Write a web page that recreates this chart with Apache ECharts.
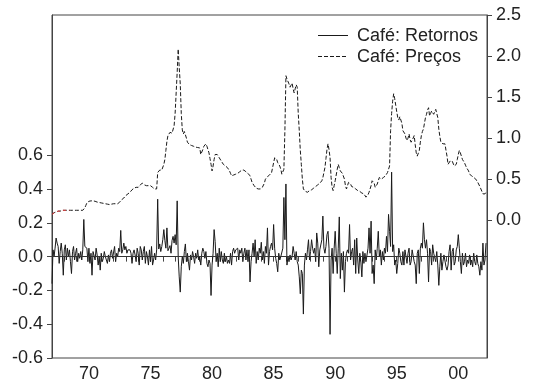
<!DOCTYPE html>
<html>
<head>
<meta charset="utf-8">
<script src="https://cdn.jsdelivr.net/npm/echarts@6/dist/echarts.min.js"></script>
<style>html,body{margin:0;padding:0;background:#fff}#c{width:548px;height:386px}</style>
</head>
<body>
<div id="c"></div>
<script>
// Monthly data starting January 1967
const startYear = 1967;

// Café: Retornos (left axis), one row per year
const returns = [
  -0.16, 0.04, 0.00, 0.05, 0.11, 0.08, 0.06, -0.04, 0.03, 0.08, 0.02, -0.11, // 1967
  0.04, 0.07, -0.02, 0.05, 0.00, 0.04, -0.03, -0.10, 0.03, 0.06, -0.02, 0.02, // 1968
  0.05, -0.03, 0.02, -0.01, 0.03, -0.02, 0.04, 0.22, 0.06, 0.07, 0.05, -0.03, // 1969
  0.05, -0.04, 0.02, -0.11, 0.03, 0.04, -0.02, 0.05, 0.01, -0.05, 0.00, -0.08, // 1970
  0.02, -0.03, -0.01, 0.03, 0.00, -0.02, -0.04, 0.01, -0.03, 0.02, 0.04, -0.01, // 1971
  0.00, 0.06, -0.03, 0.02, 0.00, 0.05, 0.03, 0.155, 0.02, 0.04, 0.08, 0.04, // 1972
  0.06, 0.02, 0.04, 0.03, 0.04, 0.02, -0.04, 0.02, 0.04, 0.01, -0.03, 0.05, // 1973
  0.02, -0.05, 0.06, 0.04, -0.02, 0.03, 0.06, -0.04, 0.03, 0.00, -0.05, 0.04, // 1974
  -0.03, 0.06, -0.05, -0.02, 0.02, -0.02, 0.04, 0.34, 0.045, 0.075, 0.03, 0.06, // 1975
  0.10, 0.16, 0.095, 0.05, 0.17, 0.035, 0.05, 0.065, 0.02, 0.095, 0.12, 0.08, // 1976
  0.13, 0.07, 0.33, 0.00, -0.12, -0.21, -0.06, 0.00, -0.04, 0.03, 0.075, -0.03, // 1977
  0.02, -0.03, -0.08, 0.01, -0.02, 0.03, 0.00, -0.04, 0.02, -0.01, 0.04, -0.02, // 1978
  0.00, -0.05, 0.02, 0.05, 0.03, -0.01, 0.03, -0.04, -0.06, -0.02, -0.04, -0.23, // 1979
  -0.05, 0.02, 0.16, 0.09, -0.03, 0.02, -0.06, 0.05, -0.03, 0.03, -0.02, -0.04, // 1980
  0.02, -0.03, 0.00, -0.04, -0.02, -0.04, 0.02, -0.05, 0.03, 0.05, 0.02, 0.04, // 1981
  0.03, 0.05, -0.02, 0.04, 0.02, 0.05, -0.03, 0.02, 0.05, -0.02, 0.04, -0.03, // 1982
  0.04, -0.15, -0.03, 0.02, 0.08, 0.00, 0.10, -0.04, 0.03, -0.02, 0.05, 0.02, // 1983
  0.085, -0.02, 0.03, -0.04, 0.06, 0.02, 0.17, -0.05, 0.03, 0.06, 0.08, 0.04, // 1984
  0.19, 0.05, -0.01, -0.04, -0.09, 0.02, -0.02, 0.00, 0.00, 0.05, 0.35, 0.10, // 1985
  0.43, -0.05, 0.00, -0.03, 0.01, -0.02, 0.00, 0.06, 0.02, -0.02, 0.03, -0.03, // 1986
  -0.05, -0.12, -0.22, -0.08, -0.10, -0.34, -0.05, 0.02, -0.02, 0.04, 0.10, -0.02, // 1987
  0.03, 0.10, 0.05, 0.02, 0.05, -0.03, 0.14, 0.08, -0.06, 0.04, 0.05, 0.10, // 1988
  0.24, 0.05, 0.02, 0.06, 0.13, 0.15, 0.05, -0.46, -0.02, 0.05, -0.10, 0.05, // 1989
  0.15, 0.02, -0.10, 0.05, 0.235, -0.13, 0.02, -0.08, 0.03, -0.21, -0.03, 0.02, // 1990
  0.04, 0.02, 0.19, -0.02, 0.03, 0.05, -0.05, 0.10, -0.10, 0.11, -0.02, -0.10, // 1991
  0.02, -0.03, -0.12, 0.03, -0.04, 0.02, -0.03, -0.02, 0.05, 0.17, 0.02, 0.21, // 1992
  -0.10, -0.05, -0.16, 0.04, -0.02, 0.05, 0.15, 0.00, 0.04, -0.05, 0.03, -0.02, // 1993
  0.05, 0.02, 0.12, 0.03, 0.25, 0.15, 0.06, 0.50, 0.03, 0.07, -0.05, -0.02, // 1994
  -0.10, -0.04, 0.05, 0.02, -0.03, -0.05, 0.03, -0.05, 0.04, 0.05, -0.04, 0.02, // 1995
  0.05, -0.05, -0.03, 0.04, 0.03, -0.03, -0.05, -0.16, 0.02, 0.04, -0.10, 0.05, // 1996
  0.08, 0.05, 0.20, 0.10, 0.05, 0.10, 0.02, -0.15, 0.05, 0.03, -0.05, 0.07, // 1997
  0.02, 0.03, -0.03, 0.03, -0.05, -0.17, -0.06, 0.02, -0.08, -0.03, 0.01, 0.02, // 1998
  -0.06, -0.08, -0.05, 0.03, 0.07, -0.08, 0.03, 0.05, -0.05, -0.03, 0.04, 0.06, // 1999
  0.13, 0.05, -0.03, -0.10, 0.02, -0.05, -0.03, 0.02, -0.06, -0.02, -0.04, 0.01, // 2000
  -0.05, -0.02, -0.06, 0.02, -0.03, -0.05, 0.01, -0.04, -0.06, -0.11, -0.03, -0.08, // 2001
  0.08, -0.05, -0.02, 0.08 // 2002
];

// Café: Preços (right axis), one row per year
const prices = [
  0.07, 0.08, 0.09, 0.09, 0.10, 0.10, 0.11, 0.11, 0.11, 0.12, 0.12, 0.12, // 1967
  0.12, 0.12, 0.12, 0.12, 0.12, 0.12, 0.12, 0.12, 0.12, 0.12, 0.12, 0.12, // 1968
  0.12, 0.12, 0.12, 0.12, 0.12, 0.12, 0.12, 0.13, 0.15, 0.18, 0.21, 0.22, // 1969
  0.23, 0.235, 0.235, 0.24, 0.235, 0.23, 0.23, 0.225, 0.22, 0.22, 0.215, 0.21, // 1970
  0.21, 0.21, 0.205, 0.20, 0.20, 0.20, 0.195, 0.195, 0.19, 0.195, 0.195, 0.20, // 1971
  0.20, 0.20, 0.20, 0.205, 0.20, 0.21, 0.22, 0.235, 0.25, 0.26, 0.27, 0.29, // 1972
  0.30, 0.31, 0.32, 0.33, 0.34, 0.36, 0.37, 0.38, 0.39, 0.39, 0.40, 0.40, // 1973
  0.40, 0.41, 0.43, 0.44, 0.45, 0.44, 0.43, 0.42, 0.42, 0.43, 0.42, 0.42, // 1974
  0.42, 0.41, 0.40, 0.39, 0.38, 0.38, 0.38, 0.58, 0.60, 0.61, 0.60, 0.61, // 1975
  0.63, 0.68, 0.74, 0.85, 0.96, 1.03, 1.05, 1.07, 1.07, 1.06, 1.08, 1.15, // 1976
  1.30, 1.55, 1.80, 2.085, 1.86, 1.66, 1.30, 1.10, 1.05, 1.08, 1.07, 1.00, // 1977
  0.95, 0.93, 0.92, 0.91, 0.91, 0.91, 0.90, 0.90, 0.89, 0.89, 0.885, 0.885, // 1978
  0.88, 0.80, 0.82, 0.86, 0.90, 0.92, 0.93, 0.90, 0.86, 0.82, 0.75, 0.68, // 1979
  0.60, 0.66, 0.74, 0.80, 0.82, 0.80, 0.78, 0.76, 0.74, 0.72, 0.70, 0.68, // 1980
  0.67, 0.66, 0.65, 0.64, 0.62, 0.60, 0.57, 0.54, 0.54, 0.55, 0.55, 0.56, // 1981
  0.56, 0.57, 0.58, 0.59, 0.60, 0.61, 0.62, 0.61, 0.60, 0.59, 0.58, 0.57, // 1982
  0.56, 0.54, 0.50, 0.46, 0.44, 0.42, 0.40, 0.39, 0.38, 0.38, 0.37, 0.38, // 1983
  0.39, 0.40, 0.40, 0.45, 0.50, 0.52, 0.53, 0.54, 0.55, 0.56, 0.58, 0.64, // 1984
  0.70, 0.76, 0.78, 0.74, 0.70, 0.68, 0.66, 0.62, 0.56, 0.54, 0.62, 1.10, // 1985
  1.76, 1.72, 1.70, 1.66, 1.62, 1.60, 1.67, 1.60, 1.55, 1.60, 1.65, 1.62, // 1986
  1.30, 1.09, 0.85, 0.68, 0.50, 0.38, 0.36, 0.35, 0.34, 0.34, 0.35, 0.36, // 1987
  0.36, 0.37, 0.38, 0.39, 0.40, 0.41, 0.42, 0.43, 0.44, 0.45, 0.46, 0.48, // 1988
  0.52, 0.58, 0.64, 0.75, 0.86, 0.93, 0.86, 0.76, 0.52, 0.40, 0.36, 0.42, // 1989
  0.48, 0.55, 0.62, 0.68, 0.64, 0.60, 0.58, 0.57, 0.56, 0.50, 0.42, 0.38, // 1990
  0.42, 0.46, 0.48, 0.44, 0.41, 0.40, 0.40, 0.39, 0.38, 0.37, 0.36, 0.36, // 1991
  0.35, 0.34, 0.33, 0.32, 0.32, 0.31, 0.28, 0.29, 0.31, 0.34, 0.36, 0.42, // 1992
  0.48, 0.50, 0.45, 0.40, 0.38, 0.44, 0.48, 0.52, 0.51, 0.50, 0.50, 0.52, // 1993
  0.53, 0.54, 0.56, 0.58, 0.62, 0.66, 1.09, 1.30, 1.45, 1.54, 1.48, 1.40, // 1994
  1.32, 1.25, 1.22, 1.26, 1.27, 1.18, 1.09, 1.07, 1.05, 1.00, 0.97, 1.00, // 1995
  1.05, 0.98, 0.95, 0.93, 1.00, 1.03, 0.92, 0.82, 0.78, 0.80, 0.85, 0.95, // 1996
  1.03, 1.08, 1.11, 1.18, 1.25, 1.29, 1.34, 1.37, 1.27, 1.30, 1.33, 1.31, // 1997
  1.29, 1.32, 1.35, 1.33, 1.25, 1.11, 1.02, 0.95, 0.93, 0.93, 0.93, 0.93, // 1998
  0.85, 0.78, 0.68, 0.70, 0.72, 0.74, 0.72, 0.70, 0.66, 0.64, 0.68, 0.74, // 1999
  0.80, 0.85, 0.82, 0.78, 0.74, 0.72, 0.70, 0.67, 0.64, 0.62, 0.60, 0.56, // 2000
  0.55, 0.54, 0.53, 0.52, 0.51, 0.50, 0.48, 0.46, 0.44, 0.41, 0.38, 0.36, // 2001
  0.32, 0.30, 0.32, 0.34 // 2002
];

// number of leading price observations drawn in red
const redMonths = 17;

const seriesNames = ['Café: Retornos', 'Café: Preços'];
const xLabelYears = [1970, 1975, 1980, 1985, 1990, 1995, 2000];
const xLabelText = ['70', '75', '80', '85', '90', '95', '00'];
const leftTicks = [-0.6, -0.4, -0.2, 0.0, 0.2, 0.4, 0.6];
const rightTicks = [0.0, 0.5, 1.0, 1.5, 2.0, 2.5];

const toPairs = arr => arr.map((v, i) => [startYear + i / 12, v]);
const yearTicks = [];
for (let y = 1967; y <= 2002; y++) yearTicks.push(y);

const FONT = '"Liberation Sans", Arial, sans-serif';
const FS = 18;
const TXT = '#222';
const AX = '#444';
const LINE = '#1a1a1a';

const legendItem = (y, name, dashed) => ([
  { type: 'line', shape: { x1: 318, y1: y + 0.5, x2: 348, y2: y + 0.5 },
    style: { stroke: LINE, lineWidth: 1, lineDash: dashed ? [4, 2] : null } },
  { type: 'text', x: 357, y: y + 1,
    style: { text: name, font: FS + 'px ' + FONT, fill: TXT, verticalAlign: 'middle', align: 'left' } }
]);

const chart = echarts.init(document.getElementById('c'), null, { renderer: 'canvas' });
chart.setOption({
  animation: false,
  backgroundColor: '#fff',
  textStyle: { fontFamily: FONT },
  grid: { left: 52, right: 61, top: 15, bottom: 28, show: true, borderColor: AX, borderWidth: 1 },
  graphic: [].concat(legendItem(35, seriesNames[0], false), legendItem(56, seriesNames[1], true)),
  xAxis: {
    type: 'value',
    min: 1967, max: 2002.33,
    axisLine: { show: true, lineStyle: { color: AX } },
    axisTick: { show: true, customValues: yearTicks, length: 5, inside: false, lineStyle: { color: AX } },
    axisLabel: {
      customValues: xLabelYears,
      formatter: v => xLabelText[xLabelYears.indexOf(Math.round(v))] || '',
      fontFamily: FONT, fontSize: FS, color: TXT, margin: 7
    },
    splitLine: { show: false }
  },
  yAxis: [
    {
      type: 'value', position: 'left',
      min: -0.6, max: 1.43,
      axisLine: { show: true, lineStyle: { color: AX } },
      axisTick: { show: true, customValues: leftTicks, length: 5, lineStyle: { color: AX } },
      axisLabel: { customValues: leftTicks, formatter: v => v.toFixed(1), fontFamily: FONT, fontSize: FS, color: TXT, margin: 9 },
      splitLine: { show: false }
    },
    {
      type: 'value', position: 'right',
      min: -1.68, max: 2.5,
      axisLine: { show: true, lineStyle: { color: AX } },
      axisTick: { show: true, customValues: rightTicks, length: 5, lineStyle: { color: AX } },
      axisLabel: { customValues: rightTicks, formatter: v => v.toFixed(1), fontFamily: FONT, fontSize: FS, color: TXT, margin: 9 },
      splitLine: { show: false }
    }
  ],
  series: [
    {
      name: seriesNames[1], type: 'line', yAxisIndex: 1,
      data: toPairs(prices),
      showSymbol: false, symbol: 'none',
      lineStyle: { color: LINE, width: 1, type: [4, 2] },
      z: 2
    },
    {
      name: 'red', type: 'line', yAxisIndex: 1,
      data: toPairs(prices.slice(0, redMonths + 1)),
      showSymbol: false, symbol: 'none',
      lineStyle: { color: '#f03c3c', width: 1, type: [3, 3] },
      z: 3
    },
    {
      name: seriesNames[0], type: 'line', yAxisIndex: 0,
      data: toPairs(returns),
      showSymbol: false, symbol: 'none',
      lineStyle: { color: LINE, width: 1 },
      markLine: {
        silent: true, symbol: 'none', label: { show: false },
        lineStyle: { color: '#333', width: 1, type: 'solid' },
        data: [{ yAxis: 0 }]
      },
      z: 4
    }
  ]
});
</script>
</body>
</html>
